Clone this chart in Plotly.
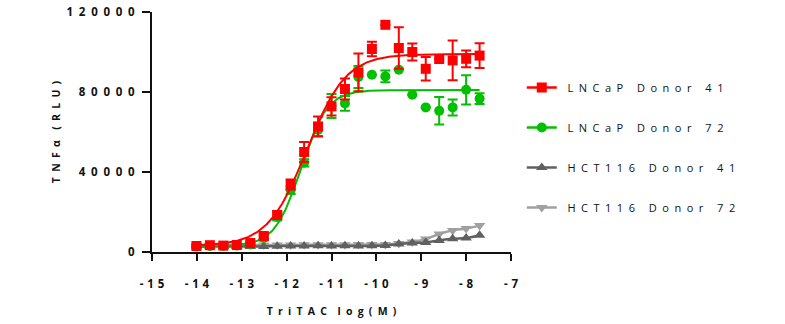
import numpy as np
import plotly.graph_objects as go

# ---- data (log10 molar concentration of TriTAC) ----
log_conc = [-14.01, -13.71, -13.41, -13.11, -12.81, -12.51, -12.21, -11.91, -11.61, -11.30, -11.00,
            -10.70, -10.40, -10.10, -9.80, -9.50, -9.20, -8.90, -8.60, -8.30, -8.00, -7.70]

lncap_d41 = [3000, 3400, 3200, 3500, 4500, 8000, 18500, 33800, 50000, 62800, 72800,
             81500, 89800, 101500, 113600, 102000, 100000, 91600, 96500, 95800, 96600, 98200]
lncap_d41_err = [500, 500, 500, 500, 800, 1500, 2000, 2500, 5000, 5000, 4600,
                 5300, 9400, 3600, 0, 10400, 4300, 5900, 0, 9900, 4200, 6200]

lncap_d72 = [2800, 3000, 3000, 3200, 4000, 7000, 17500, 31000, 44600, 61000, 73000,
             74300, 87500, 88600, 87800, 91100, 78600, 72300, 70600, 72300, 81100, 76700]
lncap_d72_err = [400, 400, 400, 400, 600, 1200, 1800, 2000, 1800, 3000, 6000,
                 3700, 5500, 0, 2900, 0, 0, 0, 6900, 4000, 7300, 2700]

hct_d41 = [2600, 2700, 2700, 2800, 2800, 2800, 2900, 3000, 3000, 3100, 3000,
           3100, 3000, 3100, 3200, 4000, 4500, 4800, 5800, 6600, 7000, 8400]
hct_d72 = [3200, 3300, 3300, 3400, 3400, 3500, 3500, 3500, 3600, 3600, 3600,
           3600, 3700, 3700, 3800, 4300, 5000, 6500, 9000, 10800, 11800, 13200]

# 4-parameter logistic fit parameters (bottom, top, logEC50, hill)
fit_d41 = (3000, 99000, -11.55, 1.0)
fit_d72 = (3000, 81000, -11.68, 1.5)

x_ticks = [-15, -14, -13, -12, -11, -10, -9, -8, -7]
y_ticks = [0, 40000, 80000, 120000]

series_names = ["LNCaP Donor 41", "LNCaP Donor 72", "HCT116 Donor 41", "HCT116 Donor 72"]
RED, GREEN, DGREY, LGREY = "#FF0000", "#00C000", "#606060", "#A0A0A0"

def spaced(s, gap="\u2002"):
    return gap.join(list(s))

def logistic(p, x):
    b, t, ec, h = p
    return b + (t - b) / (1 + 10 ** ((ec - x) * h))

xfit = np.linspace(log_conc[0], log_conc[-1], 300)

fig = go.Figure()

# HCT116 series (drawn first, behind)
fig.add_trace(go.Scatter(x=log_conc, y=hct_d72, mode="lines+markers", showlegend=False,
                         line=dict(color=LGREY, width=2.5, shape="spline"),
                         marker=dict(symbol="triangle-down", size=10, color=LGREY)))
fig.add_trace(go.Scatter(x=log_conc, y=hct_d41, mode="lines+markers", showlegend=False,
                         line=dict(color=DGREY, width=2.5, shape="spline"),
                         marker=dict(symbol="triangle-up", size=10, color=DGREY)))

# LNCaP Donor 72
fig.add_trace(go.Scatter(x=xfit, y=logistic(fit_d72, xfit), mode="lines", showlegend=False,
                         line=dict(color=GREEN, width=2)))
fig.add_trace(go.Scatter(x=log_conc, y=lncap_d72, mode="markers", showlegend=False,
                         marker=dict(symbol="circle", size=10, color=GREEN),
                         error_y=dict(type="data", array=lncap_d72_err, color=GREEN,
                                      thickness=2, width=5)))
# LNCaP Donor 41
fig.add_trace(go.Scatter(x=xfit, y=logistic(fit_d41, xfit), mode="lines", showlegend=False,
                         line=dict(color=RED, width=2)))
fig.add_trace(go.Scatter(x=log_conc, y=lncap_d41, mode="markers", showlegend=False,
                         marker=dict(symbol="square", size=10, color=RED),
                         error_y=dict(type="data", array=lncap_d41_err, color=RED,
                                      thickness=2, width=5)))

# legend entries
leg_styles = [(RED, "square"), (GREEN, "circle"), (DGREY, "triangle-up"), (LGREY, "triangle-down")]
for i, (name, (col, sym)) in enumerate(zip(series_names, leg_styles)):
    fig.add_trace(go.Scatter(x=[None], y=[None], mode="lines+markers",
                             name="  " + spaced(name), legendgroup=f"g{i}", legendrank=i + 1,
                             line=dict(color=col, width=2.5),
                             marker=dict(symbol=sym, size=10, color=col)))

tick_font = dict(family="Open Sans", size=11.5, color="#111111", weight="bold")
title_font = dict(family="Open Sans", size=10.5, color="#111111", weight="bold")

fig.update_layout(
    width=785, height=324,
    margin=dict(l=152, r=274, t=12, b=72, autoexpand=False),
    paper_bgcolor="white", plot_bgcolor="white",
    showlegend=True,
    legend=dict(x=1.03, y=0.746, xanchor="left", yanchor="top",
                font=dict(family="Open Sans", size=11, color="#111111"),
                tracegroupgap=21, itemwidth=30, bgcolor="rgba(0,0,0,0)"),
    xaxis=dict(range=[-15, -7], tickmode="array", tickvals=x_ticks,
               ticktext=[spaced(str(v), "\u2004") for v in x_ticks],
               showline=True, linecolor="#111111", linewidth=2, mirror=False,
               ticks="outside", ticklen=7, tickwidth=2, tickcolor="#111111",
               ticklabelstandoff=13, showgrid=False, zeroline=False, tickfont=tick_font,
               automargin=False,
               title=dict(text=spaced("TriTAC", "\u2002") + "\u2002\u2002" + spaced("log(M)", "\u2002"),
                          font=title_font, standoff=18)),
    yaxis=dict(range=[0, 120000], tickmode="array", tickvals=y_ticks,
               ticktext=[spaced(str(v), "\u2002") for v in y_ticks],
               showline=True, linecolor="#111111", linewidth=2,
               ticks="outside", ticklen=8, tickwidth=2, tickcolor="#111111",
               ticklabelstandoff=5, showgrid=False, zeroline=False, tickfont=tick_font,
               automargin=False,
               title=dict(text=spaced("TNFα", "\u2002") + "\u2002\u2002" + spaced("(RLU)", "\u2002"),
                          font=title_font, standoff=4)),
)

fig.write_html("out.html")
